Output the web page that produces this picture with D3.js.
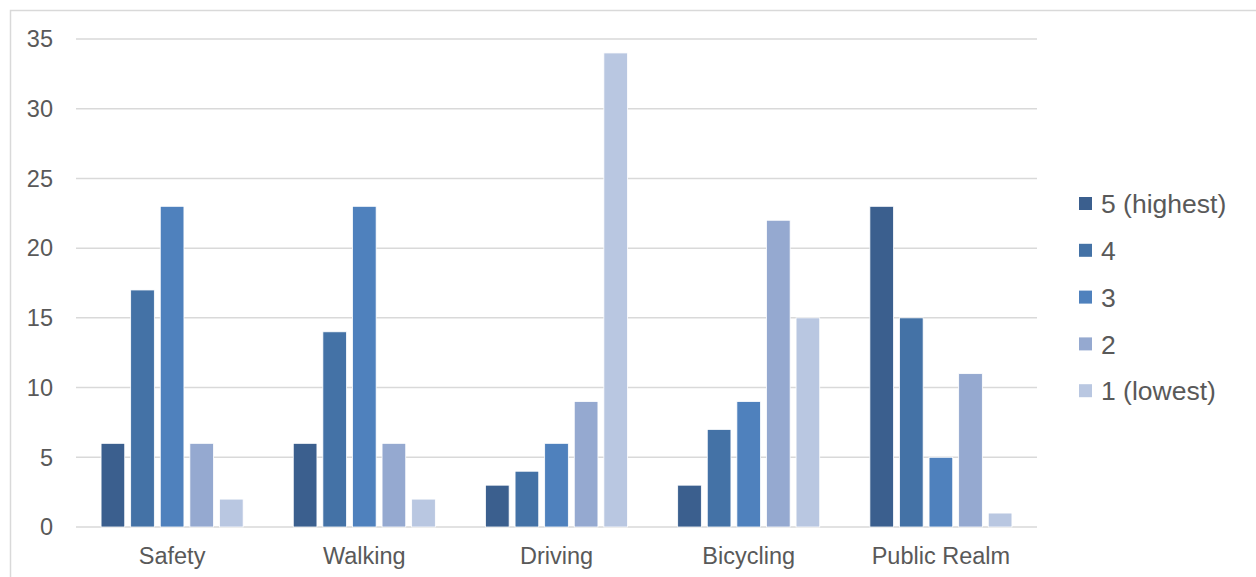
<!DOCTYPE html>
<html>
<head>
<meta charset="utf-8">
<script src="https://cdn.jsdelivr.net/npm/d3@7"></script>
<style>
  body { margin: 0; background: #fff; }
  svg text { font-family: "Liberation Sans", Arial, sans-serif; fill: #595959; }
</style>
</head>
<body>
<svg id="chart" width="1256" height="577"></svg>
<script>
const categories = ["Safety", "Walking", "Driving", "Bicycling", "Public Realm"];
const ratings = ["5 (highest)", "4", "3", "2", "1 (lowest)"];
const r5 = [6, 6, 3, 3, 23];
const r4 = [17, 14, 4, 7, 15];
const r3 = [23, 23, 6, 9, 5];
const r2 = [6, 6, 9, 22, 11];
const r1 = [2, 2, 34, 15, 1];
const yTicks = [0, 5, 10, 15, 20, 25, 30, 35];

const seriesValues = [r5, r4, r3, r2, r1];
const colors = ["#3b5f8e", "#4472a6", "#4f81bd", "#95a9d0", "#b9c7e1"];

const margin = { top: 39, right: 219, bottom: 50, left: 76 };
const W = 1256, H = 577;
const width = W - margin.left - margin.right;
const height = 527 - margin.top;

const svg = d3.select("#chart");

// outer frame of the chart area
svg.append("rect")
  .attr("x", 10.5).attr("y", 10.5)
  .attr("width", W).attr("height", H)
  .attr("fill", "none")
  .attr("stroke", "#d9d9d9")
  .attr("stroke-width", 1.5);

const g = svg.append("g")
  .attr("transform", `translate(${margin.left},${margin.top})`);

const y = d3.scaleLinear().domain([0, 35]).range([height, 0]);

const x0 = d3.scaleBand()
  .domain(categories)
  .range([0, width])
  .paddingInner(0.23)
  .paddingOuter(0.115);

const x1 = d3.scaleBand()
  .domain(ratings)
  .range([0, x0.bandwidth()])
  .paddingInner(0.2)
  .paddingOuter(0.1);

const color = d3.scaleOrdinal().domain(ratings).range(colors);

// gridlines
g.selectAll(".grid")
  .data(yTicks)
  .enter().append("line")
  .attr("x1", 0).attr("x2", width)
  .attr("y1", d => y(d)).attr("y2", d => y(d))
  .attr("stroke", "#d9d9d9")
  .attr("stroke-width", 1.5);

// y tick labels
g.selectAll(".ytick")
  .data(yTicks)
  .enter().append("text")
  .attr("x", -23)
  .attr("y", d => y(d))
  .attr("dy", "0.35em")
  .attr("text-anchor", "end")
  .style("font-size", "23.5px")
  .text(d => d);

// x labels
g.selectAll(".xtick")
  .data(categories)
  .enter().append("text")
  .attr("x", d => x0(d) + x0.bandwidth() / 2)
  .attr("y", height + 29)
  .attr("dy", "0.35em")
  .attr("text-anchor", "middle")
  .style("font-size", "23.5px")
  .text(d => d);

const table = categories.map((c, i) => ({
  category: c,
  values: ratings.map((r, j) => ({ rating: r, value: seriesValues[j][i] }))
}));

const groups = g.selectAll(".group")
  .data(table)
  .enter().append("g")
  .attr("transform", d => `translate(${x0(d.category)},0)`);

groups.selectAll("rect")
  .data(d => d.values)
  .enter().append("rect")
  .attr("x", d => x1(d.rating))
  .attr("y", d => y(d.value))
  .attr("width", x1.bandwidth())
  .attr("height", d => height - y(d.value))
  .attr("fill", d => color(d.rating))
  .attr("stroke", "#ffffff")
  .attr("stroke-width", 0.8);

// legend
const legend = svg.append("g").attr("transform", "translate(1079,204)");
const items = legend.selectAll(".item")
  .data(ratings)
  .enter().append("g")
  .attr("transform", (d, i) => `translate(0,${i * 46.8})`);

items.append("rect")
  .attr("x", 0).attr("y", -7)
  .attr("width", 13).attr("height", 13)
  .attr("fill", d => color(d));

items.append("text")
  .attr("x", 22)
  .attr("y", 0)
  .attr("dy", "0.35em")
  .style("font-size", "26.5px")
  .text(d => d);
</script>
</body>
</html>
